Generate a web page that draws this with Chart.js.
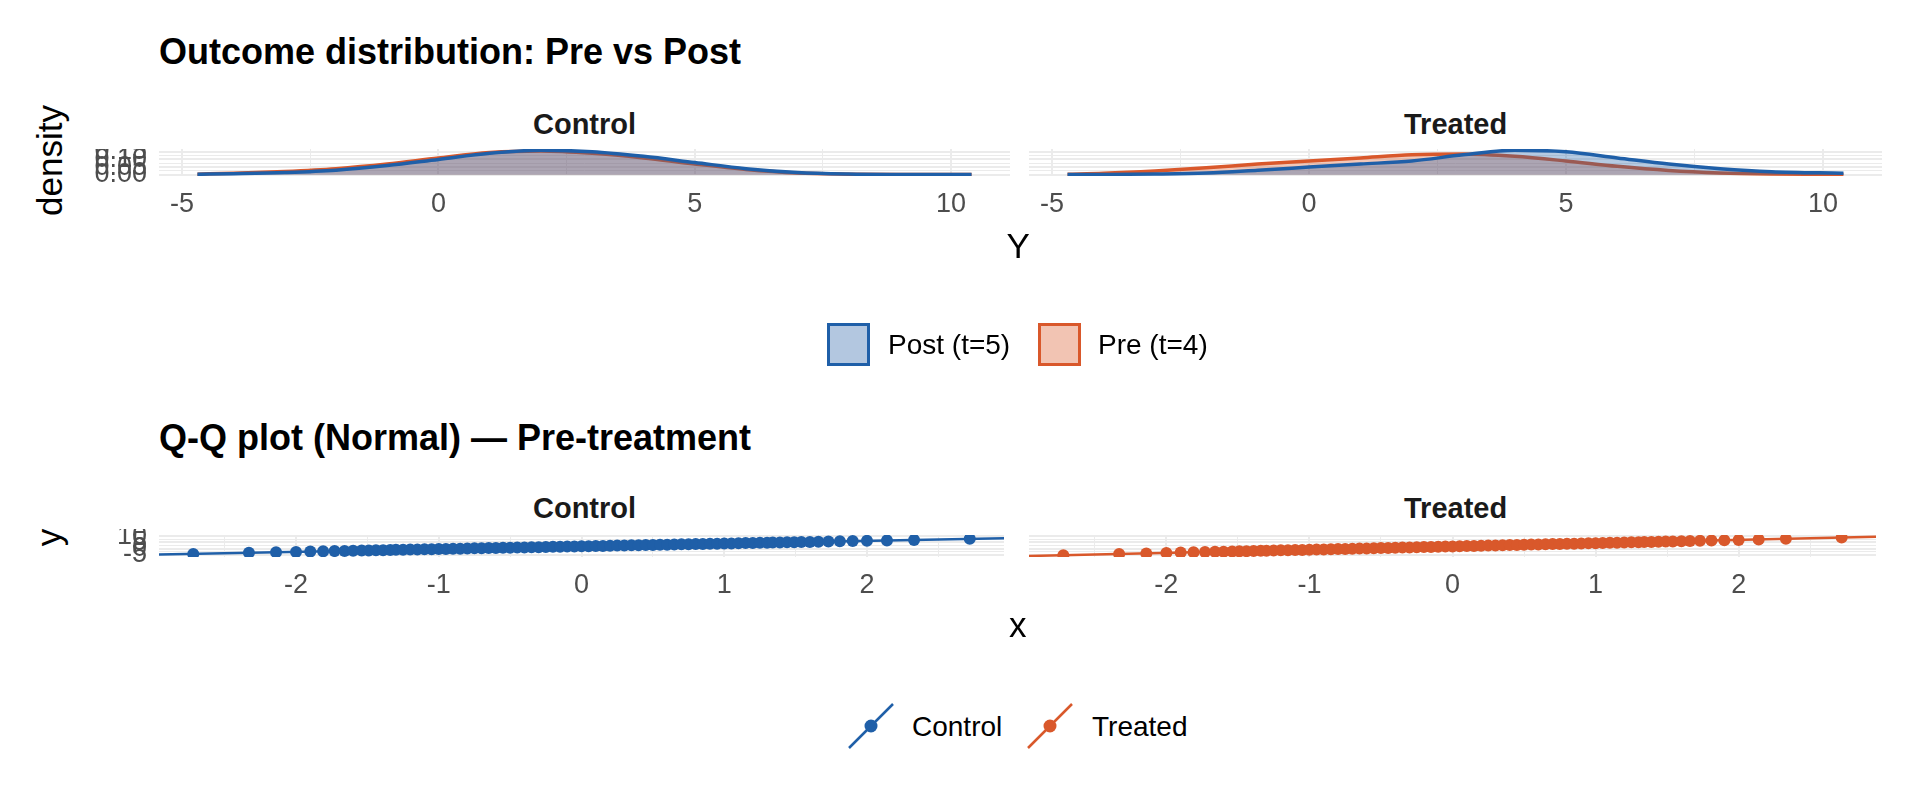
<!DOCTYPE html>
<html><head><meta charset="utf-8">
<script src="https://cdn.jsdelivr.net/npm/chart.js@4/dist/chart.umd.min.js"></script>
<style>
body{margin:0;width:1920px;height:806px;background:#fff;position:relative;overflow:hidden;font-family:"Liberation Sans",Arial,sans-serif}
.t{position:absolute;white-space:nowrap;color:#000;line-height:1}
canvas{position:absolute}
.box{position:absolute;box-sizing:border-box;border:3px solid}
</style></head><body>
<script>
// ---- data ----
const densX = [-4.7,-4,-3,-2,-1,0,1,2,3,4,5,6,7,8,9,10.4];
const ctrlPost = [.003,.007,.015,.03,.06,.1,.14,.16,.15,.12,.08,.04,.015,.005,.002,.001];
const ctrlPre  = [.004,.01,.022,.04,.07,.11,.145,.155,.14,.11,.07,.035,.012,.004,.001,.001];
const trtPost  = [.001,.002,.005,.012,.03,.05,.07,.09,.13,.16,.15,.11,.07,.04,.02,.01];
const trtPre   = [.004,.01,.025,.045,.07,.09,.11,.13,.135,.12,.09,.055,.028,.012,.005,.002];
const densXTicks = [-5,-2.5,0,2.5,5,7.5,10];
const densYTicks = [0,0.025,0.05,0.075,0.1,0.125,0.15];
const qqTheo = [-2.72,-2.33,-2.14,-2.0,-1.9,-1.81,-1.73,-1.66,-1.6,-1.54,-1.49,-1.44,-1.39,-1.34,-1.3,-1.25,-1.2,-1.15,-1.1,-1.05,-1.0,-0.95,-0.9,-0.85,-0.8,-0.75,-0.7,-0.65,-0.6,-0.55,-0.5,-0.45,-0.4,-0.35,-0.3,-0.25,-0.2,-0.15,-0.1,-0.05,0,
 0.05,0.1,0.15,0.2,0.25,0.3,0.35,0.4,0.45,0.5,0.55,0.6,0.65,0.7,0.75,0.8,0.85,0.9,0.95,1.0,1.05,1.1,1.15,1.2,1.25,1.3,1.34,1.39,1.44,1.49,1.54,1.6,1.66,1.73,1.81,1.9,2.0,2.14,2.33,2.72];
const qqCtrl = [-4.3,-3.3,-2.9,-2.6,-2.3,-2.1,-1.9,-1.8,-1.6,-1.5,-1.4,-1.3,-1.2,-1.0,-0.9,-0.8,-0.7,-0.6,-0.5,-0.4,-0.3,-0.2,-0.1,0.0,0.2,0.3,0.4,0.5,0.6,0.7,0.8,0.9,1.0,1.1,1.2,1.4,1.5,1.6,1.7,1.8,1.9,
 2.0,2.1,2.2,2.3,2.5,2.6,2.7,2.8,2.9,3.0,3.1,3.2,3.3,3.5,3.6,3.7,3.8,3.9,4.0,4.1,4.2,4.3,4.5,4.6,4.7,4.8,4.9,5.0,5.1,5.2,5.3,5.4,5.6,5.7,5.9,6.1,6.3,6.6,7.0,7.9];
const qqTrt = [-5.3,-4.3,-3.8,-3.4,-3.1,-2.9,-2.7,-2.5,-2.4,-2.2,-2.1,-2.0,-1.8,-1.7,-1.6,-1.5,-1.3,-1.2,-1.1,-1.0,-0.8,-0.7,-0.6,-0.5,-0.3,-0.2,-0.1,0.1,0.2,0.3,0.5,0.6,0.7,0.9,1.0,1.1,1.3,1.4,1.5,1.7,1.8,
 1.9,2.1,2.2,2.3,2.5,2.6,2.7,2.9,3.0,3.1,3.3,3.4,3.5,3.7,3.8,3.9,4.0,4.2,4.3,4.4,4.6,4.7,4.8,5.0,5.1,5.2,5.3,5.4,5.6,5.7,5.8,6.0,6.1,6.3,6.5,6.7,7.0,7.4,7.9,8.9];
const lineX = [-2.96, 2.96];
const lineCtrl = [-4.6, 8.4];
const lineTrt = [-5.9, 9.5];
const qqXTicks = [-2.5,-2,-1.5,-1,-0.5,0,0.5,1,1.5,2,2.5];
const qqYTicks = [-5,-2.5,0,2.5,5,7.5,10];

const BLUE = '#1f5fa8', ORANGE = '#d9582b';
const BLUEF = 'rgba(31,95,168,0.33)', ORANGEF = 'rgba(217,88,43,0.33)';

function txt(s, x, y, css){const d=document.createElement('div');d.className='t';d.textContent=s;d.style.left=x+'px';d.style.top=y+'px';d.style.cssText+=css||'';document.body.appendChild(d);return d;}

const YW = 90, XH = 55;
function panel(left, top, w, h, datasets, xmin, xmax, ymin, ymax, xt, yt, showY, xMajorStep, yMajorStep){
  const c = document.createElement('canvas');
  c.style.left=(left-YW)+'px'; c.style.top=top+'px';
  c.style.width=(w+YW)+'px'; c.style.height=(h+XH)+'px';
  c.width=w+YW; c.height=h+XH;
  document.body.appendChild(c);
  const isMaj=(v,s)=>Math.abs(v/s-Math.round(v/s))<1e-6;
  const zeroPad=s=>{s.paddingTop=0;s.paddingBottom=0;s.paddingLeft=0;s.paddingRight=0;};
  new Chart(c,{type:'scatter',data:{datasets},options:{
    responsive:false,animation:false,devicePixelRatio:1,
    layout:{padding:0},
    plugins:{legend:{display:false},tooltip:{enabled:false}},
    scales:{
      x:{type:'linear',min:xmin,max:xmax,
        afterBuildTicks:s=>{s.ticks=xt.map(v=>({value:v}));},
        afterFit:s=>{s.height=XH;zeroPad(s);},
        border:{display:false},
        grid:{drawTicks:false,color:'#ebebeb',lineWidth:ctx=>isMaj(ctx.tick.value,xMajorStep)?2:1},
        ticks:{padding:12,color:'#4d4d4d',font:{size:27,family:'Liberation Sans'},maxRotation:0,autoSkip:false,
          callback:v=>isMaj(v,xMajorStep)?String(v):''}},
      y:{type:'linear',min:ymin,max:ymax,
        afterBuildTicks:s=>{s.ticks=yt.map(v=>({value:v}));},
        afterFit:s=>{s.width=YW;zeroPad(s);},
        border:{display:false},
        grid:{drawTicks:false,color:'#ebebeb',lineWidth:ctx=>isMaj(ctx.tick.value,yMajorStep)?2:1},
        ticks:{display:showY,padding:12,color:'#4d4d4d',font:{size:27,family:'Liberation Sans'},autoSkip:false,
          callback:v=>isMaj(v,yMajorStep)?(yMajorStep<1?v.toFixed(2):String(v)):''}}
    }}});
}
const pts=(xs,ys)=>xs.map((x,i)=>({x,y:ys[i]}));
function dens(ys,col,fill){return {type:'line',data:pts(densX,ys),borderColor:col,backgroundColor:fill,fill:'origin',borderWidth:3.5,pointRadius:0,tension:0.4,cubicInterpolationMode:'monotone'};}
function qq(ys,ly,col){return [
  {type:'scatter',data:pts(qqTheo,ys),backgroundColor:col,borderColor:col,pointRadius:6,pointBorderWidth:0},
  {type:'line',data:pts(lineX,ly),borderColor:col,borderWidth:2.5,pointRadius:0}];}

const L1=159,W1=851,L2=1029,W2=853;
panel(L1,149,W1,27,[dens(ctrlPost,BLUE,BLUEF),dens(ctrlPre,ORANGE,ORANGEF)],-5.45,11.15,-0.008,0.168,densXTicks,densYTicks,true,5,0.05);
panel(L2,149,W2,27,[dens(trtPost,BLUE,BLUEF),dens(trtPre,ORANGE,ORANGEF)],-5.45,11.15,-0.008,0.168,densXTicks,densYTicks,false,5,0.05);
panel(L1,529,W1,28,qq(qqCtrl,lineCtrl,BLUE),-2.96,2.96,-6.7,11,qqXTicks,qqYTicks,true,1,5);
panel(L2,529,W2,28,qq(qqTrt,lineTrt,ORANGE),-2.96,2.96,-6.7,11,qqXTicks,qqYTicks,false,1,5);

txt('Outcome distribution: Pre vs Post',159,34,'font-size:36px;font-weight:bold');
txt('Q-Q plot (Normal) — Pre-treatment',159,420,'font-size:36px;font-weight:bold');
[[L1+W1/2,110],[L2+W2/2,110]].forEach((p,i)=>{const d=txt(i?'Treated':'Control',0,p[1],'font-size:29px;font-weight:bold;color:#1a1a1a');d.style.left=(p[0]-d.offsetWidth/2)+'px';});
[[L1+W1/2,494],[L2+W2/2,494]].forEach((p,i)=>{const d=txt(i?'Treated':'Control',0,p[1],'font-size:29px;font-weight:bold;color:#1a1a1a');d.style.left=(p[0]-d.offsetWidth/2)+'px';});
let d=txt('Y',0,228,'font-size:35px');d.style.left=(1018-d.offsetWidth/2)+'px';
d=txt('x',0,607,'font-size:35px');d.style.left=(1018-d.offsetWidth/2)+'px';
d=txt('density',0,0,'font-size:35px');d.style.left=(49-d.offsetWidth/2)+'px';d.style.top=(160-17)+'px';d.style.transform='rotate(-90deg)';
d=txt('y',0,0,'font-size:35px');d.style.left=(49-d.offsetWidth/2)+'px';d.style.top=(540-20)+'px';d.style.transform='rotate(-90deg)';

function box(x,y,col,fill){const b=document.createElement('div');b.className='box';b.style.cssText+=`left:${x}px;top:${y}px;width:43px;height:43px;border-color:${col};background:${fill}`;document.body.appendChild(b);}
box(827,323,BLUE,'#b3c7e0');txt('Post (t=5)',888,331,'font-size:28px');
box(1038,323,ORANGE,'#f2c4b3');txt('Pre (t=4)',1098,331,'font-size:28px');
function glyph(x,col){const s=document.createElementNS('http://www.w3.org/2000/svg','svg');s.setAttribute('width','48');s.setAttribute('height','48');s.style.cssText=`position:absolute;left:${x}px;top:702px`;s.innerHTML=`<line x1="2" y1="46" x2="46" y2="2" stroke="${col}" stroke-width="2.5"/><circle cx="24" cy="24" r="6.5" fill="${col}"/>`;document.body.appendChild(s);}
glyph(847,BLUE);txt('Control',912,713,'font-size:28px');
glyph(1026,ORANGE);txt('Treated',1092,713,'font-size:28px');
</script>
</body></html>
